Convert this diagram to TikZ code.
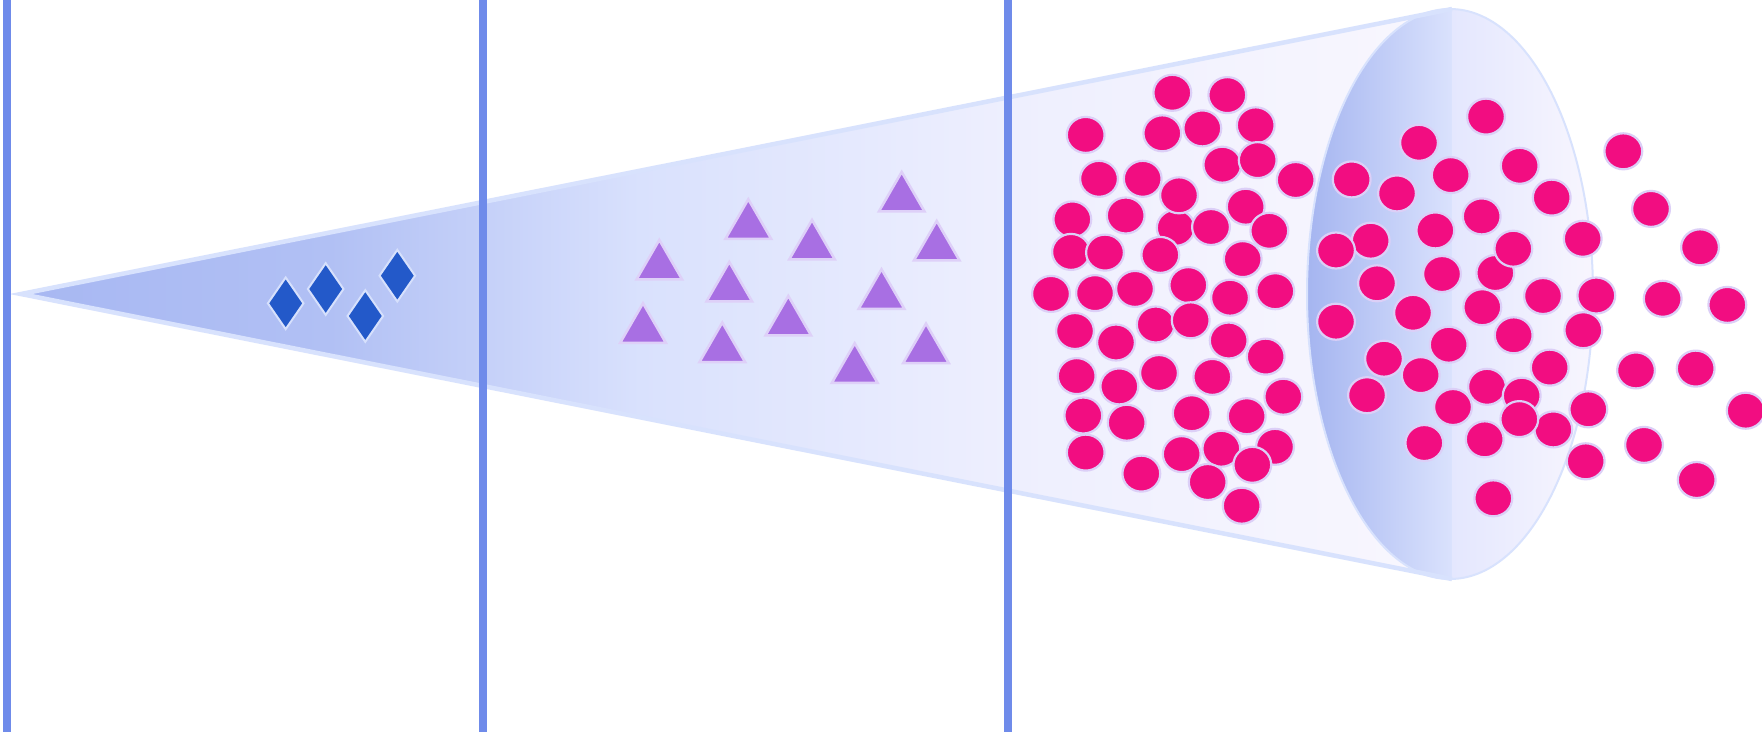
\documentclass[tikz,border=0pt]{standalone}
\usepackage{xcolor}
\definecolor{vline}{HTML}{6F8BEA}
\definecolor{coneedge}{HTML}{D8E2FD}
\definecolor{coneA}{HTML}{A7B7F2}
\definecolor{coneA2}{HTML}{B1C0F4}
\definecolor{coneB}{HTML}{D9E1FD}
\definecolor{coneC}{HTML}{EEEFFE}
\definecolor{coneD}{HTML}{F9F7FE}
\definecolor{elA}{HTML}{A5B5F0}
\definecolor{elB}{HTML}{BDC9F6}
\definecolor{elC}{HTML}{DAE2FD}
\definecolor{elD}{HTML}{E4E7FE}
\definecolor{elE}{HTML}{F8F6FE}
\definecolor{diafill}{HTML}{2359C9}
\definecolor{diaedge}{HTML}{D6E0FC}
\definecolor{trifill}{HTML}{A86FE3}
\definecolor{triedge}{HTML}{DED0F8}
\definecolor{pinkfill}{HTML}{F20D81}
\definecolor{pinkedge}{HTML}{DCCFF7}
\tikzset{
  vbar/.style={draw=vline, line width=8},
  coneline/.style={draw=coneedge, line width=4.5, line join=miter},
  diamondsty/.style={fill=diafill, draw=diaedge, line width=2, line join=miter},
  tristy/.style={fill=trifill, draw=triedge, line width=2.5, line join=miter},
  dotsty/.style={fill=pinkfill, draw=pinkedge, line width=2.2},
}
\newcommand\dia[2]{\draw[diamondsty] ({#1},{#2-25.8}) -- ({#1+17.8},{#2}) -- ({#1},{#2+25.8}) -- ({#1-17.8},{#2}) -- cycle;}
\newcommand\tri[2]{\draw[tristy] ({#1-22.8},{#2-1.25}) -- ({#1+22.8},{#2-1.25}) -- ({#1},{#2-40.75}) -- cycle;}
\newcommand\pdot[2]{\draw[dotsty] (#1,#2) ellipse [x radius=18.9, y radius=18];}
\begin{document}
\begin{tikzpicture}[x=1pt,y=-1pt]
\useasboundingbox (0,0) rectangle (1762,732);
\fill[white] (0,0) rectangle (1762,732);
% cone body
\begin{scope}
\clip (21,294) -- (1452,9) -- (1452,579) -- cycle;
\fill[coneB] (0,0) rectangle (1460,600);
\shade[left color=coneA, right color=coneA2] (0,0) rectangle (330,600);
\shade[left color=coneA2, right color=coneB] (329.5,0) rectangle (640,600);
\shade[left color=coneB, right color=coneC] (639.5,0) rectangle (1010,600);
\shade[left color=coneC, right color=coneD] (1009.5,0) rectangle (1460,600);
\end{scope}
% opening ellipse
\begin{scope}
\clip (1450,294) ellipse [x radius=143, y radius=285];
\shade[left color=elA, middle color=elB, right color=elC] (1307,0) rectangle (1452,600);
\shade[left color=elD, right color=elE] (1452,0) rectangle (1594,600);
\end{scope}
\draw[draw=coneedge, line width=2] (1450,294) ellipse [x radius=143, y radius=285];
\draw[coneline] (1452,9) -- (21,294) -- (1452,579);
% vertical bars
\draw[vbar] (6.5,0) -- (6.5,732);
\draw[vbar] (483,0) -- (483,732);
\draw[vbar] (1007.5,0) -- (1007.5,732);
% diamonds
\dia{285.7}{303.3}
\dia{325.7}{289}
\dia{365.3}{316}
\dia{397.3}{275.7}
% triangles
\tri{659.3}{280.7}
\tri{748.3}{240}
\tri{812}{260.7}
\tri{729.3}{302.7}
\tri{643}{344}
\tri{722.3}{363.3}
\tri{788.3}{336.7}
\tri{881.5}{310}
\tri{854.7}{384}
\tri{901.7}{212.7}
\tri{936.7}{261.7}
\tri{926}{364.3}
% dots inside the cone
\pdot{1175.7}{227.8}
\pdot{1085.7}{134.9}
\pdot{1172.3}{92.8}
\pdot{1227.3}{95.1}
\pdot{1162.3}{133.3}
\pdot{1202.3}{128.4}
\pdot{1255.7}{125.3}
\pdot{1099}{178.8}
\pdot{1142.7}{178.8}
\pdot{1179}{195.3}
\pdot{1222.3}{164.7}
\pdot{1257.7}{160.1}
\pdot{1295.7}{180}
\pdot{1072.3}{219.4}
\pdot{1125.7}{215.5}
\pdot{1211}{227}
\pdot{1245.7}{206.7}
\pdot{1269.3}{230.8}
\pdot{1071}{251.9}
\pdot{1105}{252.6}
\pdot{1160.3}{254.9}
\pdot{1242.7}{259.1}
\pdot{1051}{293.9}
\pdot{1095}{293.1}
\pdot{1135}{288.9}
\pdot{1188.3}{285.1}
\pdot{1230}{297.7}
\pdot{1275.3}{291.2}
\pdot{1075}{331}
\pdot{1116}{342.5}
\pdot{1155.7}{324.5}
\pdot{1190.7}{320.3}
\pdot{1228.7}{340.5}
\pdot{1265.7}{356.6}
\pdot{1076.7}{376.1}
\pdot{1119.3}{386.4}
\pdot{1159}{373}
\pdot{1212.3}{376.9}
\pdot{1283.3}{396.7}
\pdot{1083.3}{415.5}
\pdot{1126.7}{422.7}
\pdot{1191.7}{413.2}
\pdot{1246.7}{416.2}
\pdot{1085.7}{452.6}
\pdot{1141.3}{473.6}
\pdot{1181.7}{454.1}
\pdot{1221.3}{448.7}
\pdot{1275}{446.8}
\pdot{1252.3}{464.8}
\pdot{1207.7}{482}
\pdot{1241.7}{505.7}
% dots on and beyond the opening
\pdot{1351.7}{179.4}
\pdot{1419}{142.8}
\pdot{1397}{193.4}
\pdot{1450.7}{175.1}
\pdot{1486}{116.6}
\pdot{1519.7}{165.8}
\pdot{1551.7}{197.6}
\pdot{1481.7}{216.4}
\pdot{1435.3}{230.4}
\pdot{1370.7}{240.7}
\pdot{1336}{250.5}
\pdot{1582.7}{238.8}
\pdot{1495.3}{273}
\pdot{1513.3}{248.7}
\pdot{1623.3}{151.3}
\pdot{1651}{208.9}
\pdot{1700}{247.3}
\pdot{1377}{283.3}
\pdot{1442}{274}
\pdot{1482.3}{307.2}
\pdot{1543}{296}
\pdot{1596.3}{295.5}
\pdot{1662.7}{298.8}
\pdot{1727.3}{304.9}
\pdot{1336}{321.7}
\pdot{1413}{312.8}
\pdot{1448.7}{344.7}
\pdot{1513.7}{335.3}
\pdot{1583.3}{330.2}
\pdot{1384}{358.7}
\pdot{1420.7}{375.1}
\pdot{1549.7}{367.6}
\pdot{1636}{370.4}
\pdot{1695.7}{368.6}
\pdot{1367}{395.2}
\pdot{1487}{386.8}
\pdot{1521.7}{395.7}
\pdot{1453}{407}
\pdot{1553.3}{429.4}
\pdot{1519.3}{419.1}
\pdot{1588.3}{409.3}
\pdot{1745.7}{410.7}
\pdot{1424.3}{443}
\pdot{1484.7}{439.3}
\pdot{1585.7}{461.3}
\pdot{1644}{444.9}
\pdot{1696.7}{480}
\pdot{1493.3}{498.3}
\end{tikzpicture}
\end{document}
